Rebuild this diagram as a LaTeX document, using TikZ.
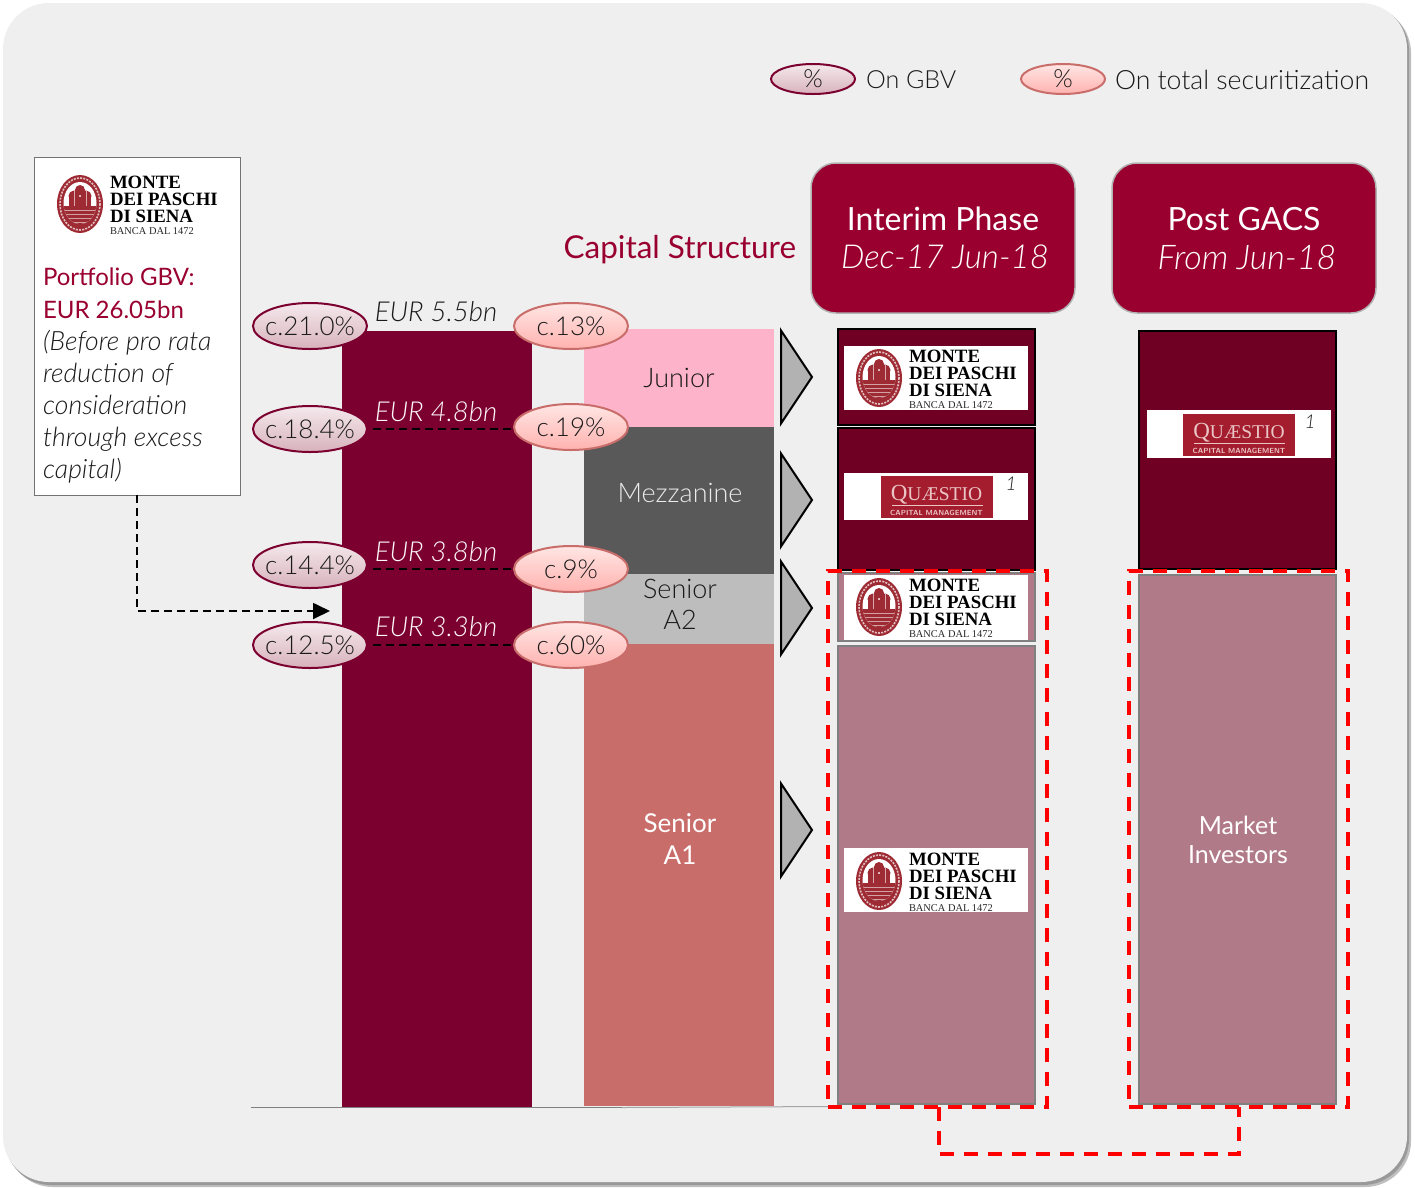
\documentclass[tikz,border=0pt]{standalone}
\usepackage{fontspec}
\setmainfont{Lato}[UprightFont=* Light,ItalicFont=* Light Italic,BoldFont=* Regular,BoldItalicFont=* Italic]
\newfontfamily\logofont{Liberation Serif}
\usetikzlibrary{shapes.geometric,arrows.meta}
\definecolor{panel}{HTML}{EFEFEF}
\definecolor{crim}{HTML}{990030}
\definecolor{barc}{HTML}{7B0030}
\definecolor{dark}{HTML}{6F0024}
\definecolor{mauve}{HTML}{B07A88}
\definecolor{junior}{HTML}{FDB4CB}
\definecolor{mezz}{HTML}{595959}
\definecolor{seniorb}{HTML}{BDBDBD}
\definecolor{seniora}{HTML}{C96D6B}
\definecolor{txtc}{HTML}{1A1A1A}
\definecolor{shield}{HTML}{9E2B33}
\definecolor{questio}{HTML}{A31D2E}
\definecolor{qtext}{HTML}{EBC5C5}
\definecolor{gbvtop}{HTML}{F4E9EC}
\definecolor{gbvbot}{HTML}{D8B2BC}
\definecolor{sectop}{HTML}{FFE6E4}
\definecolor{secbot}{HTML}{FFB2AF}
\newcommand{\fsz}[1]{\fontsize{#1}{#1}\selectfont}
\tikzset{
  every node/.style={inner sep=0pt,outer sep=0pt},
  block/.style={rectangle,draw=none},
  tranche/.style={rectangle,fill=dark,draw=black,line width=2.5pt,minimum width=197pt},
  public/.style={rectangle,fill=mauve,draw=black!50,line width=2.5pt,minimum width=197pt},
  head/.style={rectangle,rounded corners=25pt,fill=crim,draw=black!30,line width=1.5pt,minimum width=264pt,minimum height=150pt},
  gbv/.style={ellipse,inner sep=-22pt,draw=barc,line width=2pt,top color=gbvtop,bottom color=gbvbot,minimum width=114pt,minimum height=46pt,text=txtc,font=\fsz{26}},
  sec/.style={ellipse,inner sep=-22pt,draw=seniora,line width=2pt,top color=sectop,bottom color=secbot,minimum width=114pt,minimum height=46pt,text=txtc,font=\fsz{26}},
  gbvs/.style={gbv,minimum width=84pt,minimum height=30pt},
  secs/.style={sec,minimum width=84pt,minimum height=30pt},
  lab/.style={text=txtc},
  eur/.style={font=\itshape\fsz{27.5},text=white!92!pink},
  redbox/.style={rectangle,draw=red,line width=3.5pt,dash pattern=on 14pt off 10pt},
  redlink/.style={draw=red,line width=3.5pt,dash pattern=on 14pt off 10pt},
  arrowhead/.style={fill=black!30,draw=black,line width=2pt,line join=miter},
  white plate/.style={rectangle,fill=white,minimum width=184pt},
}
% name, oval centre x, y
\newcommand{\mpslogo}[3]{%
  \begin{scope}[shift={(#2,#3)}]
    \fill[shield] (0,0) ellipse [x radius=23,y radius=29];
    \draw[white!70!shield,line width=1.6pt,dash pattern=on 2pt off 1.2pt] (0,0) ellipse [x radius=20,y radius=26];
    \fill[white] (0,-1) ellipse [x radius=16.5,y radius=21];
    \begin{scope}
      \clip (0,-1) ellipse [x radius=16.5,y radius=21];
      \fill[shield] (-6,-8) circle (5.5) (6,-8) circle (5.5) (0,-14) circle (5);
      \fill[shield] (-11,-7) rectangle (11,3);
      \fill[shield] (-17,2) rectangle (17,25);
      \foreach \yy in {6,10,14,18}{\draw[white!55!shield,line width=.6pt] (-17,\yy) -- (17,\yy);}
      \draw[white!60!shield,line width=.6pt] (-6,-13) -- (-6,2) (6,-13) -- (6,2);
    \end{scope}
    \node[anchor=base west,font=\logofont\bfseries\fsz{18.8},text=black] (#1a) at (30,-15.5) {MONTE};
    \node[anchor=base west,font=\logofont\bfseries\fsz{18.8},text=black] (#1b) at (30,1.5) {DEI PASCHI};
    \node[anchor=base west,font=\logofont\bfseries\fsz{18.8},text=black] (#1c) at (30,18.5) {DI SIENA};
    \node[anchor=base west,font=\logofont\fsz{10.4},text=black!85] (#1d) at (30,30) {BANCA DAL 1472};
  \end{scope}}
% name, centre x, y
\newcommand{\qlogo}[3]{%
  \node[rectangle,fill=questio,minimum width=112pt,minimum height=42pt] (#1) at (#2,#3) {};
  \node[font=\logofont\fsz{23},text=qtext] (#1t) at (#2,#3-2) {Q\fsz{19.5}UÆSTIO};
  \fill[qtext] (#2-45,#3+8) rectangle (#2+46,#3+9);
  \node[font=\sffamily\bfseries\fsz{7.4},text=qtext] (#1s) at (#2,#3+16) {CAPITAL MANAGEMENT};}
\newcommand{\tri}[2]{\path[arrowhead] (#1,#2-46.5) -- (#1+31,#2) -- (#1,#2+46.5) -- cycle;}
\begin{document}
\begin{tikzpicture}[x=1pt,y=-1pt]
\path[use as bounding box] (0,0) rectangle (1415,1187);
\fill[white] (0,0) rectangle (1415,1187);
% panel
\fill[black!25] (7,7) [rounded corners=46pt] rectangle (1411,1187);
\fill[black!40] (5,5) [rounded corners=46pt] rectangle (1409,1185);
\fill[panel] (3,3) [rounded corners=46pt] rectangle (1407,1182);
% legend
\node[gbvs] (lg1) at (813,79) {\fsz{25}\%};
\node[lab,anchor=west,font=\fsz{25}] (lgt1) at (866,80) {On GBV};
\node[secs] (lg2) at (1063,79) {\fsz{25}\%};
\node[lab,anchor=west,font=\fsz{26.6}] (lgt2) at (1115,80) {On total securitization};
% portfolio box
\node[rectangle,fill=white,draw=black!55,line width=1pt,minimum width=206pt,minimum height=338pt] (pf) at (137,326) {};
\mpslogo{lga}{80}{204}
\node[anchor=north west,align=left,font=\fontsize{26}{32}\selectfont,text=txtc] (pft) at (43,268)
 {\textcolor{crim}{\bfseries\fsz{24}Portfolio GBV:}\\[1pt] \textcolor{crim}{\bfseries\fsz{24}EUR 26.05bn}\\ \itshape\fsz{26.6}(Before pro rata\\ \itshape\fsz{26.6}reduction of\\ \itshape\fsz{26.6}consideration\\ \itshape\fsz{26.6}through excess\\ \itshape\fsz{26.6}capital)};
% baseline
\coordinate (b0) at (251,1107.5);
\coordinate (b1) at (622,1107.5);
\coordinate (b2) at (830,1106.5);
\draw[black!50,line width=1.5pt] (b0) -- (b1);
\draw[black!35,line width=1pt] (b1) -- (b2);
% main bar
\node[block,fill=barc,minimum width=190pt,minimum height=776pt] (bar) at (437,719) {};
% capital structure
\node[font=\bfseries\fsz{31.5},text=crim,anchor=east] (cs) at (796,250) {Capital Structure};
\node[block,fill=junior,minimum width=190pt,minimum height=98pt,font=\fsz{27},text=txtc] (jr) at (679,378) {Junior};
\node[block,fill=mezz,minimum width=190pt,minimum height=147pt] (mz) at (679,500.5) {};
\node[font=\fsz{27},text=white!92!black] (mzt) at (680,493) {Mezzanine};
\node[block,fill=seniorb,minimum width=190pt,minimum height=70pt] (a2) at (679,609) {};
\node[align=center,font=\fontsize{27}{31}\selectfont,text=txtc] (a2t) at (680,604.5) {Senior\\A2};
\node[block,fill=seniora,minimum width=190pt,minimum height=462pt] (a1) at (679,875) {};
\node[align=center,font=\bfseries\fontsize{26}{32}\selectfont,text=white] (a1t) at (680,839) {Senior\\A1};
% arrowheads
\tri{781}{377}
\tri{781}{500}
\tri{781}{608}
\tri{781}{830}
% headers
\node[head] (h1) at (943,238) {};
\node[font=\bfseries\fsz{32},text=white] (h1a) at (943,219) {Interim Phase};
\node[font=\itshape\fsz{33},text=white] (h1b) at (945,257) {Dec-17 Jun-18};
\node[head] (h2) at (1244,238) {};
\node[font=\bfseries\fsz{32},text=white] (h2a) at (1244,219) {Post GACS};
\node[font=\itshape\fsz{34},text=white] (h2b) at (1247,257) {From Jun-18};
% interim column
\node[tranche,minimum height=96pt] (i1) at (936.5,377) {};
\node[tranche,minimum height=142pt] (i2) at (936.5,499) {};
\node[public,minimum height=68pt] (i3) at (936.5,607) {};
\node[public,minimum height=458pt] (i4) at (936.5,875) {};
\node[white plate,minimum height=64pt] (p1) at (936,378) {};
\mpslogo{lgb}{879}{378}
\node[white plate,minimum height=47pt] (p2) at (936,496.5) {};
\qlogo{qa}{936.5}{497}
\node[font=\itshape\fsz{19},text=txtc] (n1) at (1011,484) {1};
\node[white plate,minimum height=65pt] (p3) at (936,607.5) {};
\mpslogo{lgc}{879}{607}
\node[white plate,minimum height=64pt] (p4) at (936,880) {};
\mpslogo{lgd}{879}{881}
% post column
\node[tranche,minimum height=238pt] (j1) at (1237.5,450) {};
\node[public,minimum height=529pt] (j2) at (1237.5,839.5) {};
\node[white plate,minimum height=48pt] (p5) at (1239,434) {};
\qlogo{qb}{1239}{434.5}
\node[font=\itshape\fsz{19},text=txtc] (n2) at (1310,422) {1};
\node[align=center,font=\bfseries\fontsize{25}{29}\selectfont,text=white] (mi) at (1238,840) {Market\\Investors};
% red frames
\node[redbox,minimum width=219pt,minimum height=536pt] (ra) at (937.5,839) {};
\node[redbox,minimum width=219pt,minimum height=536pt] (rb) at (1238.5,839) {};
\coordinate (rc) at (939,1154);
\coordinate (rd) at (1239,1154);
\draw[redlink] (ra.south -| rc) -- (rc) -- (rd) -- (rb.south -| rd);
% bubbles
\node[gbv] (l1) at (310,326) {c.21.0\%};
\node[gbv] (l2) at (310,429) {c.18.4\%};
\node[gbv] (l3) at (310,565) {c.14.4\%};
\node[gbv] (l4) at (310,645) {c.12.5\%};
\node[sec] (r1) at (571,326) {c.13\%};
\node[sec] (r2) at (571,427) {c.19\%};
\node[sec] (r3) at (571,569) {c.9\%};
\node[sec] (r4) at (571,645) {c.60\%};
% amounts
\node[font=\itshape\fsz{27.5},text=txtc] (e1) at (436,312) {EUR 5.5bn};
\node[eur] (e2) at (436,412) {EUR 4.8bn};
\node[eur] (e3) at (436,552) {EUR 3.8bn};
\node[eur] (e4) at (436,627) {EUR 3.3bn};
% dashed levels
\draw[black,line width=1.8pt,dash pattern=on 8pt off 5pt,shorten <=6pt] (l2.east) -- (l2.east -| r2.west);
\draw[black,line width=1.8pt,dash pattern=on 8pt off 5pt,shorten <=6pt] (l3.east |- r3.west) -- (r3.west);
\draw[black,line width=1.8pt,dash pattern=on 8pt off 5pt,shorten <=6pt] (l4.east) -- (r4.west);
% portfolio arrow
\coordinate (pa) at (330,611);
\draw[black,line width=1.8pt,dash pattern=on 8pt off 5pt,-{Triangle[length=17pt,width=16pt]}] (pf.south) |- (pa);
\end{tikzpicture}
\end{document}
